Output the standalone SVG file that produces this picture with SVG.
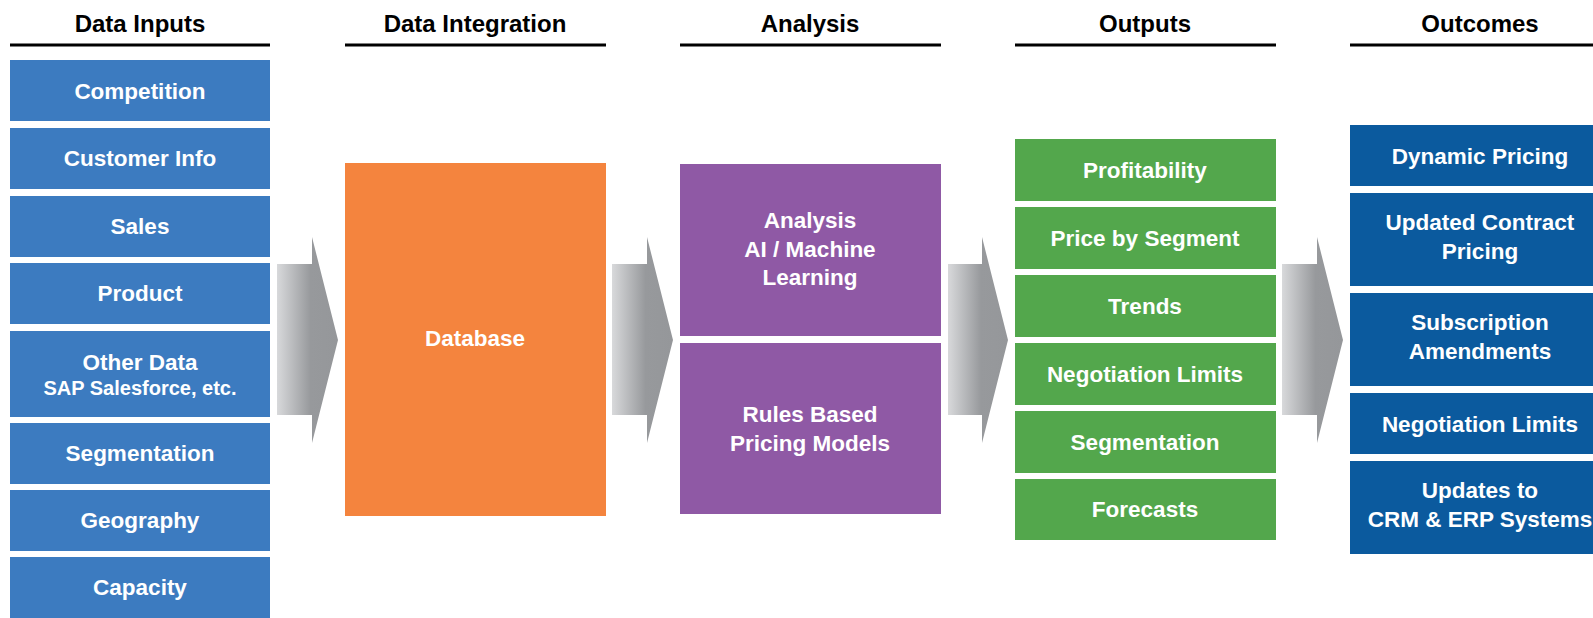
<svg xmlns="http://www.w3.org/2000/svg" width="1593" height="618" viewBox="0 0 1593 618">
<style>
text{font-family:"Liberation Sans",Arial,sans-serif;font-weight:bold;text-anchor:middle}
.h{font-size:24px;fill:#000}
.t{font-size:22.5px;fill:#fff}
.s{font-size:20px;fill:#fff}
.hl{stroke:#000;stroke-width:3}
.in{fill:#3c7bc0}
.db{fill:#f4843e}
.an{fill:#8f59a5}
.out{fill:#53a74c}
.oc{fill:#0b5a9e}
.arr{fill:url(#ag)}
</style>
<defs>
<linearGradient id="ag" x1="0" y1="0" x2="1" y2="0">
<stop offset="0" stop-color="#d8d9db"/>
<stop offset="0.55" stop-color="#97999c"/>
<stop offset="1" stop-color="#95979a"/>
</linearGradient>
</defs>
<rect width="1593" height="618" fill="#fff"/>
<g id="headers">
<text class="h" x="140" y="32">Data Inputs</text>
<line class="hl" x1="10" y1="45" x2="270" y2="45"/>
<text class="h" x="475" y="32">Data Integration</text>
<line class="hl" x1="345" y1="45" x2="606" y2="45"/>
<text class="h" x="810" y="32">Analysis</text>
<line class="hl" x1="680" y1="45" x2="941" y2="45"/>
<text class="h" x="1145" y="32">Outputs</text>
<line class="hl" x1="1015" y1="45" x2="1276" y2="45"/>
<text class="h" x="1480" y="32">Outcomes</text>
<line class="hl" x1="1350" y1="45" x2="1610" y2="45"/>
</g>
<g id="inputs">
<g id="in-competition"><rect class="in" x="10" y="60" width="260" height="61"/><text class="t" x="140" y="99">Competition</text></g>
<g id="in-customer"><rect class="in" x="10" y="128" width="260" height="61"/><text class="t" x="140" y="166">Customer Info</text></g>
<g id="in-sales"><rect class="in" x="10" y="196" width="260" height="61"/><text class="t" x="140" y="234">Sales</text></g>
<g id="in-product"><rect class="in" x="10" y="263" width="260" height="61"/><text class="t" x="140" y="301">Product</text></g>
<g id="in-other"><rect class="in" x="10" y="331" width="260" height="86"/><text class="t" x="140" y="370">Other Data</text><text class="s" x="140" y="395">SAP Salesforce, etc.</text></g>
<g id="in-segmentation"><rect class="in" x="10" y="423" width="260" height="61"/><text class="t" x="140" y="461">Segmentation</text></g>
<g id="in-geography"><rect class="in" x="10" y="490" width="260" height="61"/><text class="t" x="140" y="528">Geography</text></g>
<g id="in-capacity"><rect class="in" x="10" y="557" width="260" height="61"/><text class="t" x="140" y="595">Capacity</text></g>
</g>
<g id="connectors">
<path class="arr" d="M277,264H312V237L338,340L312,443V415H277Z"/>
<path class="arr" d="M612,264H647V237L673,340L647,443V415H612Z"/>
<path class="arr" d="M948,264H982V237L1008,340L982,443V415H948Z"/>
<path class="arr" d="M1282,264H1317V237L1343,340L1317,443V415H1282Z"/>
</g>
<g id="database"><rect class="db" x="345" y="163" width="261" height="353"/><text class="t" x="475" y="346">Database</text></g>
<g id="analysis-ai"><rect class="an" x="680" y="164" width="261" height="172"/><text class="t" x="810" y="228">Analysis</text><text class="t" x="810" y="257">AI / Machine</text><text class="t" x="810" y="285">Learning</text></g>
<g id="analysis-rules"><rect class="an" x="680" y="343" width="261" height="171"/><text class="t" x="810" y="422">Rules Based</text><text class="t" x="810" y="451">Pricing Models</text></g>
<g id="outputs">
<g id="out-profit"><rect class="out" x="1015" y="139" width="261" height="62"/><text class="t" x="1145" y="178">Profitability</text></g>
<g id="out-price"><rect class="out" x="1015" y="207" width="261" height="62"/><text class="t" x="1145" y="246">Price by Segment</text></g>
<g id="out-trends"><rect class="out" x="1015" y="275" width="261" height="62"/><text class="t" x="1145" y="314">Trends</text></g>
<g id="out-negotiation"><rect class="out" x="1015" y="343" width="261" height="62"/><text class="t" x="1145" y="382">Negotiation Limits</text></g>
<g id="out-segmentation"><rect class="out" x="1015" y="411" width="261" height="62"/><text class="t" x="1145" y="450">Segmentation</text></g>
<g id="out-forecasts"><rect class="out" x="1015" y="479" width="261" height="61"/><text class="t" x="1145" y="517">Forecasts</text></g>
</g>
<g id="outcomes">
<g id="oc-dynamic"><rect class="oc" x="1350" y="125" width="260" height="61"/><text class="t" x="1480" y="164">Dynamic Pricing</text></g>
<g id="oc-contract"><rect class="oc" x="1350" y="193" width="260" height="93"/><text class="t" x="1480" y="230">Updated Contract</text><text class="t" x="1480" y="259">Pricing</text></g>
<g id="oc-subscription"><rect class="oc" x="1350" y="293" width="260" height="93"/><text class="t" x="1480" y="330">Subscription</text><text class="t" x="1480" y="359">Amendments</text></g>
<g id="oc-negotiation"><rect class="oc" x="1350" y="393" width="260" height="61"/><text class="t" x="1480" y="432">Negotiation Limits</text></g>
<g id="oc-updates"><rect class="oc" x="1350" y="461" width="260" height="93"/><text class="t" x="1480" y="498">Updates to</text><text class="t" x="1480" y="527">CRM &amp; ERP Systems</text></g>
</g>
</svg>
